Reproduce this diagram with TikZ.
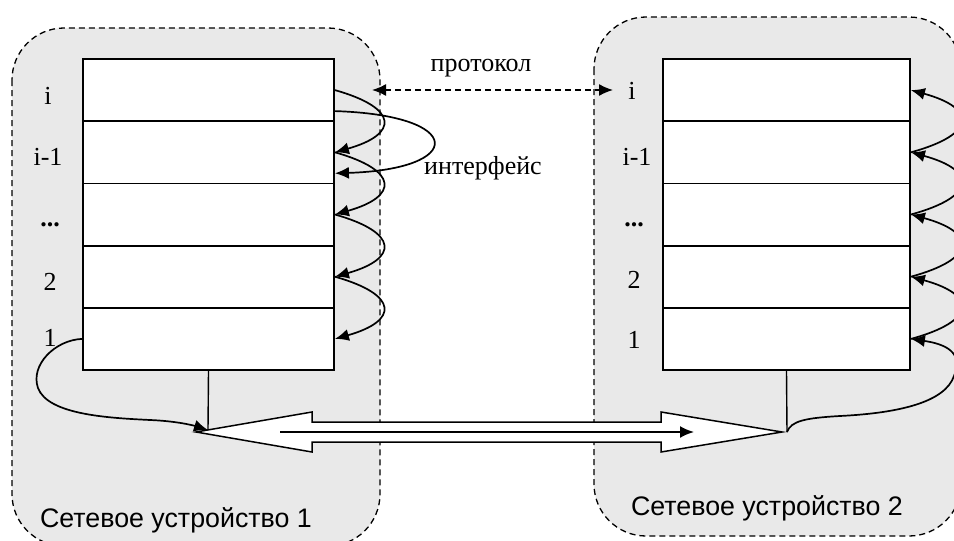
\documentclass[tikz,border=0pt]{standalone}
\usepackage{fontspec}
\setmainfont{Liberation Serif}
\newfontfamily\sansf{Liberation Sans}
\usetikzlibrary{arrows.meta,calc}
\definecolor{devfill}{HTML}{E9E9E9}
\tikzset{
  device/.style={draw, dash pattern=on 6pt off 4pt, line width=1.3pt, fill=devfill, rounded corners=52pt},
  layerL/.style={draw, line width=1.8pt, fill=white, minimum width=251pt, minimum height=62.2pt, inner sep=0pt},
  layerR/.style={draw, line width=1.8pt, fill=white, minimum width=247pt, minimum height=62.2pt, inner sep=0pt},
  lbl/.style={font=\fontsize{26}{30}\selectfont, inner sep=0pt},
  devlbl/.style={font=\sansf\fontsize{26.8}{30}\selectfont, inner sep=0pt},
  conn/.style={line width=1.7pt, -{Latex[length=14pt,width=12pt]}},
  wire/.style={line width=1.4pt},
  proto/.style={line width=1.5pt, dash pattern=on 6pt off 4pt, {Latex[length=14pt,width=12pt]}-{Latex[length=14pt,width=12pt]}},
  bigarrow/.style={draw, line width=1.5pt, fill=white, line join=miter},
}
\begin{document}
\begin{tikzpicture}[x=1pt,y=-1pt]
\useasboundingbox (0,0) rectangle (954,541);
\clip (0,0) rectangle (954,541);
% devices
\path[device] (12,28) rectangle (380,546);
\path[device] (594,17) rectangle (961,536);
% stacks
\foreach \k in {1,...,5} {
  \node[layerL] (L\k) at (208.5,{59+62.2*(\k-0.5)}) {};
  \node[layerR] (R\k) at (786.5,{59+62.2*(\k-0.5)}) {};
}
% labels
\node[lbl] (li)  at (48,96)  {i};
\node[lbl] (li1) at (48,157) {i-1};
\node[lbl] (ld)  at (50,225) {\textbf{...}};
\node[lbl] (l2)  at (50,282) {2};
\node[lbl] (l1)  at (50,338) {1};
\node[lbl] (ri)  at (632,91)  {i};
\node[lbl] (ri1) at (637,157) {i-1};
\node[lbl] (rd)  at (634,225) {\textbf{...}};
\node[lbl] (r2)  at (634,280) {2};
\node[lbl] (r1)  at (634,340) {1};
\node[lbl] (proto) at (481,68) {протокол};
\node[lbl] (intf)  at (483,168) {интерфейс};
\node[devlbl] (d1) at (176,520) {Сетевое устройство 1};
\node[devlbl] (d2) at (767,508) {Сетевое устройство 2};
% protocol arrow
\coordinate (pl) at (372,90);
\coordinate (pr) at (613,90);
\draw[proto] (pl) -- (pr);
% left interface arcs
\foreach \a/\b in {1/2,2/3,3/4,4/5} {
  \draw[conn] (L\a.east) .. controls +(64,18) and +(64,-18) .. (L\b.east);
}
\draw[conn] ($(L1.east)+(0,21)$) .. controls +(131,4) and +(131,-4) .. ($(L2.east)+(0,21)$);
% right arcs
\foreach \a/\b in {2/1,3/2,4/3,5/4} {
  \draw[conn] (R\a.east) .. controls +(66,-18) and +(66,18) .. (R\b.east);
}
% stems
\coordinate (sl) at (L5.south);
\coordinate (sr) at (R5.south);
\coordinate (nl) at (208,430);
\coordinate (nr) at (787,432);
% big hollow arrow
\path[bigarrow] (196,432) -- (312,412) -- (312,422) -- (661,422) -- (661,412) -- (782,432)
  -- (661,452) -- (661,442) -- (312,442) -- (312,452) -- cycle;
\coordinate (al) at (280,432);
\coordinate (ar) at (694,432);
\draw[line width=2pt, -{Latex[length=14pt,width=12pt]}] (al) -- (ar);
\draw[wire] (sl) -- (nl);
\draw[wire] (sr) -- (nr);
% network curves
\draw[conn] (L5.west) .. controls (55,340) and (30,365) .. (38,388)
  .. controls (48,415) and (110,418) .. (150,420)
  .. controls (175,421) and (192,425) .. (nl);
\draw[conn] (nr) .. controls (791,421) and (805,418) .. (840,416)
  .. controls (900,413) and (945,402) .. (954,376)
  .. controls (964,352) and (945,344) .. (R5.east);
\end{tikzpicture}
\end{document}
